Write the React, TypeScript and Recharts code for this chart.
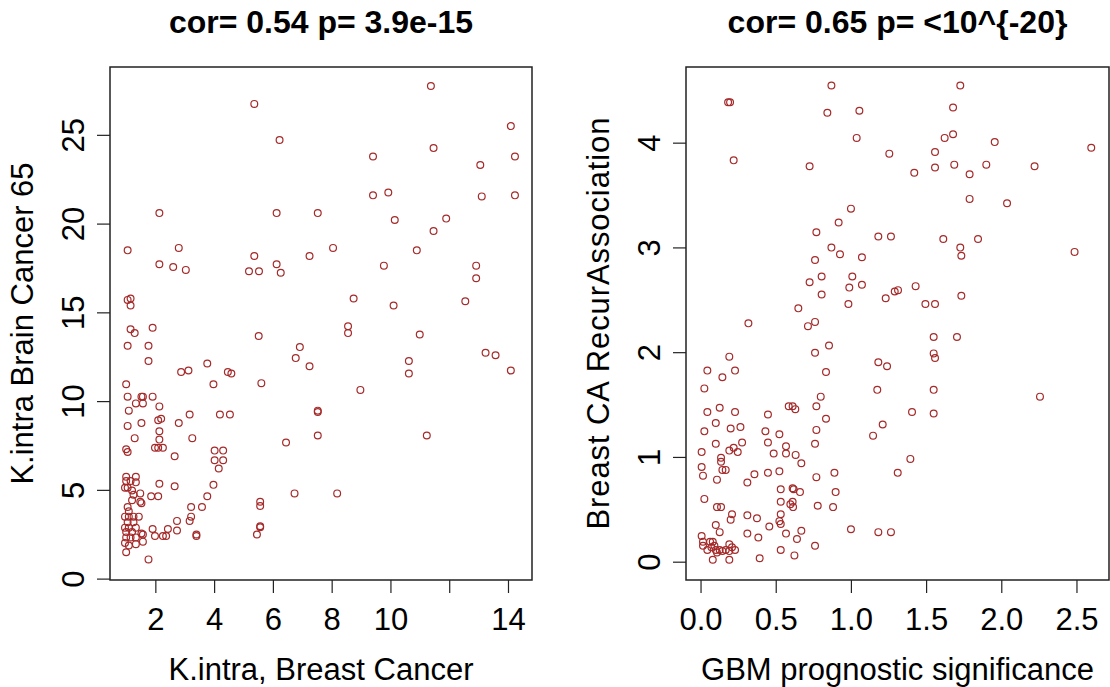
import React from "react";
import { ScatterChart, Scatter, XAxis, YAxis, Label, ReferenceArea } from "recharts";

// left panel: K.intra Breast Cancer vs K.intra Brain Cancer 65
const leftX = [
  11.36, 5.35, 14.08, 6.21, 11.45, 9.39, 14.22, 13.04, 9.39, 9.91, 13.09, 14.22, 2.12, 6.11, 7.51, 10.13, 11.88, 11.45,
  1.04, 2.78, 8.03, 10.88, 5.35, 7.23, 2.12, 2.59, 3.02, 5.17, 5.51, 6.11, 6.25, 9.76, 12.9, 12.9, 1.04, 1.14, 1.14,
  8.73, 12.53, 10.09, 1.14, 1.28, 1.89, 1.04, 1.75, 1.75, 8.54, 8.54, 5.5, 6.9, 6.76, 7.23, 10.98, 10.61, 10.61, 13.22,
  13.56, 14.08, 3.75, 2.86, 3.11, 4.45, 4.57, 5.59, 3.96, 0.99, 8.96, 1.04, 1.51, 1.56, 1.89, 1.32, 1.56, 2.12, 1.08,
  3.15, 4.18, 4.52, 7.51, 7.51, 1.51, 2.08, 2.18, 2.78, 1.04, 2.12, 1.28, 2.12, 3.24, 7.51, 11.22, 6.43, 0.99, 1.04,
  1.97, 2.08, 2.24, 2.64, 4.0, 4.29, 4.0, 4.29, 4.14, 0.99, 1.32, 0.99, 1.14, 1.32, 0.95, 1.04, 1.19, 1.47, 1.24, 2.12,
  2.64, 3.96, 1.84, 2.08, 3.75, 1.19, 1.47, 1.51, 6.72, 8.17, 1.04, 3.2, 3.57, 5.55, 5.55, 1.08, 0.95, 1.08, 1.24,
  1.42, 3.2, 3.15, 2.72, 1.04, 1.24, 0.95, 1.08, 1.32, 0.99, 1.19, 1.51, 1.56, 1.89, 2.41, 2.72, 1.97, 2.24, 2.35,
  3.38, 3.38, 5.55, 5.55, 5.44, 0.99, 1.14, 1.32, 0.95, 1.08, 1.32, 1.56, 0.99, 1.75,
];
const leftY = [
  27.78, 26.77, 25.52, 24.74, 24.28, 23.81, 23.81, 23.33, 21.62, 21.78, 21.56, 21.62, 20.62, 20.62, 20.62, 20.23,
  20.31, 19.61, 18.52, 18.66, 18.66, 18.52, 18.2, 18.2, 17.74, 17.58, 17.42, 17.34, 17.34, 17.74, 17.26, 17.66, 17.66,
  16.95, 15.73, 15.81, 15.41, 15.81, 15.65, 15.41, 14.08, 13.86, 14.16, 13.15, 13.15, 12.29, 14.24, 13.86, 13.7, 13.07,
  12.45, 11.99, 13.78, 12.29, 11.58, 12.75, 12.61, 11.75, 12.15, 11.67, 11.75, 11.67, 11.58, 11.04, 10.98, 10.98,
  10.66, 10.28, 10.28, 10.28, 10.28, 9.9, 9.9, 9.73, 9.49, 9.27, 9.27, 9.27, 9.49, 9.41, 8.79, 8.95, 9.03, 8.79, 8.63,
  8.33, 7.94, 7.86, 7.94, 8.09, 8.09, 7.7, 7.32, 7.16, 7.4, 7.4, 7.4, 6.92, 7.24, 7.24, 6.7, 6.7, 6.23, 5.77, 5.77,
  5.53, 5.53, 5.45, 5.15, 5.15, 4.99, 4.83, 4.75, 5.37, 5.23, 5.31, 4.67, 4.67, 4.67, 4.44, 4.36, 4.28, 4.83, 4.83,
  4.06, 4.06, 4.06, 4.36, 4.12, 3.82, 3.52, 3.52, 3.52, 3.52, 3.52, 3.28, 3.28, 3.2, 3.2, 2.9, 2.9, 2.9, 2.65, 2.65,
  2.57, 2.51, 2.82, 2.82, 2.74, 2.43, 2.43, 2.43, 2.51, 2.43, 2.98, 2.92, 2.51, 2.35, 2.35, 2.35, 2.03, 1.89, 1.97,
  2.11, 1.51, 1.11,
];

// right panel: GBM prognostic significance vs Breast CA RecurAssociation
const rightX = [
  0.867, 1.724, 0.18, 0.193, 1.676, 0.84, 1.053, 1.676, 1.62, 1.035, 1.953, 2.595, 1.252, 1.556, 0.217, 0.722, 1.556,
  1.684, 1.897, 2.218, 1.418, 1.786, 1.786, 2.035, 0.997, 0.915, 0.767, 1.179, 1.263, 1.611, 1.842, 0.867, 0.924,
  1.07, 1.724, 1.731, 2.484, 0.758, 0.802, 1.006, 0.722, 0.986, 1.07, 0.802, 1.427, 1.228, 1.288, 1.31, 1.731, 0.98,
  1.492, 1.556, 0.647, 0.315, 0.711, 0.758, 1.547, 1.702, 0.851, 0.758, 1.547, 1.556, 0.188, 1.179, 1.237, 0.042,
  0.226, 0.142, 0.831, 0.022, 1.172, 1.547, 2.254, 0.796, 0.767, 0.583, 0.609, 0.627, 0.124, 0.042, 0.226, 0.445,
  1.403, 1.547, 0.831, 0.098, 0.022, 0.197, 0.262, 0.428, 0.521, 0.767, 1.208, 1.144, 0.098, 0.273, 0.445, 0.758,
  0.565, 0.004, 0.188, 0.217, 0.244, 0.483, 0.565, 0.629, 0.667, 0.133, 0.133, 0.142, 0.164, 0.004, 0.013, 0.106,
  1.392, 1.308, 0.355, 0.308, 0.445, 0.521, 0.767, 0.887, 0.53, 0.609, 0.616, 0.658, 0.895, 0.022, 0.53, 0.594, 0.609,
  0.612, 0.776, 0.878, 0.106, 0.133, 0.206, 0.197, 0.308, 0.372, 0.53, 0.521, 0.53, 0.454, 0.098, 0.124, 0.308, 0.381,
  0.565, 0.638, 0.667, 0.997, 1.179, 1.263, 0.758, 0.53, 0.621, 0.39, 0.004, 0.013, 0.013, 0.042, 0.06, 0.078, 0.089,
  0.098, 0.106, 0.069, 0.142, 0.164, 0.188, 0.188, 0.226, 0.078, 0.188, 0.206, 0.124,
];
const rightY = [
  4.55, 4.55, 4.39, 4.39, 4.34, 4.29, 4.31, 4.085, 4.05, 4.05, 4.01, 3.956, 3.9, 3.915, 3.836, 3.78, 3.768, 3.795,
  3.795, 3.78, 3.717, 3.703, 3.468, 3.427, 3.375, 3.242, 3.15, 3.109, 3.109, 3.085, 3.085, 3.003, 2.939, 2.911, 3.003,
  2.925, 2.962, 2.884, 2.727, 2.727, 2.672, 2.621, 2.648, 2.556, 2.635, 2.519, 2.584, 2.597, 2.543, 2.464, 2.464,
  2.464, 2.423, 2.28, 2.253, 2.294, 2.15, 2.15, 2.068, 2.0, 1.993, 1.949, 1.962, 1.908, 1.87, 1.829, 1.829, 1.765,
  1.816, 1.659, 1.645, 1.645, 1.58, 1.58, 1.488, 1.488, 1.488, 1.461, 1.474, 1.433, 1.433, 1.41, 1.433, 1.42, 1.369,
  1.328, 1.249, 1.276, 1.29, 1.249, 1.222, 1.263, 1.314, 1.208, 1.13, 1.143, 1.143, 1.13, 1.106, 1.051, 1.065, 1.092,
  1.051, 1.038, 1.038, 1.024, 0.945, 0.997, 0.959, 0.881, 0.881, 0.908, 0.826, 0.788, 0.986, 0.853, 0.84, 0.761,
  0.853, 0.867, 0.812, 0.853, 0.696, 0.706, 0.696, 0.669, 0.669, 0.604, 0.577, 0.553, 0.577, 0.526, 0.539, 0.526,
  0.526, 0.526, 0.457, 0.406, 0.447, 0.42, 0.457, 0.392, 0.365, 0.341, 0.355, 0.287, 0.273, 0.235, 0.273, 0.222, 0.3,
  0.314, 0.287, 0.287, 0.157, 0.116, 0.065, 0.038, 0.249, 0.195, 0.157, 0.116, 0.195, 0.195, 0.157, 0.116, 0.092,
  0.143, 0.106, 0.116, 0.171, 0.106, 0.116, 0.024, 0.024, 0.143, 0.116,
];

const leftXTicks = [2, 4, 6, 8, 10, 12, 14];
const leftYTicks = [0, 5, 10, 15, 20, 25];
const rightXTicks = [0, 0.5, 1, 1.5, 2, 2.5];
const rightYTicks = [0, 1, 2, 3, 4];

const leftTitle = "cor= 0.54 p= 3.9e-15";
const rightTitle = "cor= 0.65 p= <10^{-20}";

const FONT = "'Liberation Sans', Arial, Helvetica, sans-serif";
const PT_COLOR = "#A52A2A";
const H = 687;
const TOP = 67;
const BOTTOM = 580;
const BOX_LEFT = 110;

const zip = (xs: number[], ys: number[]) => xs.map((x, i) => ({ x, y: ys[i] }));

const ring = (p: any) => {
  const cx = p.cx ?? p.x + (p.width || 0) / 2;
  const cy = p.cy ?? p.y + (p.height || 0) / 2;
  return <circle cx={cx} cy={cy} r={3.4} fill="none" stroke={PT_COLOR} strokeWidth={1.2} />;
};

type PanelProps = {
  left: number;
  width: number;
  plotWidth: number;
  data: { x: number; y: number }[];
  xDomain: [number, number];
  yDomain: [number, number];
  xTicks: number[];
  yTicks: number[];
  xFmt: (v: number) => string;
  xLabel: string;
  yLabel: string;
  yLabelLength?: number;
  title: string;
};

function Panel(p: PanelProps) {
  const right = p.width - BOX_LEFT - p.plotWidth;
  const midX = BOX_LEFT + p.plotWidth / 2;
  const midY = (TOP + BOTTOM) / 2;

  const xTick = (t: any) => (
    <text x={t.x} y={BOTTOM + 50} textAnchor="middle" fontSize={31} fontFamily={FONT} fill="#000">
      {p.xFmt(t.payload.value)}
    </text>
  );
  const yTick = (t: any) => (
    <text
      x={84}
      y={t.y}
      transform={`rotate(-90, 84, ${t.y})`}
      textAnchor="middle"
      fontSize={31}
      fontFamily={FONT}
      fill="#000"
    >
      {t.payload.value}
    </text>
  );

  return (
    <div style={{ position: "absolute", left: p.left, top: 0, width: p.width, height: H }}>
      <div
        style={{
          position: "absolute",
          left: 0,
          top: 6,
          width: midX * 2,
          textAlign: "center",
          fontFamily: FONT,
          fontWeight: "bold",
          fontSize: 32,
          lineHeight: "32px",
          color: "#000",
          whiteSpace: "nowrap",
        }}
      >
        {p.title}
      </div>
      <ScatterChart width={p.width} height={H} margin={{ top: TOP, left: BOX_LEFT - 60, right, bottom: H - BOTTOM - 30 }}>
        <XAxis
          type="number"
          dataKey="x"
          domain={p.xDomain}
          allowDataOverflow
          ticks={p.xTicks}
          interval={0}
          axisLine={false}
          tickLine={{ stroke: "#222", strokeWidth: 1.2 }}
          tickSize={13}
          height={30}
          tick={xTick}
        >
          <Label
            content={() => (
              <text x={midX} y={BOTTOM + 100} textAnchor="middle" fontSize={31} fontFamily={FONT} fill="#000">
                {p.xLabel}
              </text>
            )}
          />
        </XAxis>
        <YAxis
          type="number"
          dataKey="y"
          domain={p.yDomain}
          allowDataOverflow
          ticks={p.yTicks}
          interval={0}
          axisLine={false}
          tickLine={{ stroke: "#222", strokeWidth: 1.2 }}
          tickSize={13}
          width={60}
          tick={yTick}
        >
          <Label
            content={() => (
              <text
                x={33}
                y={midY}
                transform={`rotate(-90, 33, ${midY})`}
                textAnchor="middle"
                fontSize={31}
                fontFamily={FONT}
                fill="#000"
                textLength={p.yLabelLength}
                lengthAdjust={p.yLabelLength ? "spacing" : undefined}
              >
                {p.yLabel}
              </text>
            )}
          />
        </YAxis>
        <ReferenceArea
          x1={p.xDomain[0]}
          x2={p.xDomain[1]}
          y1={p.yDomain[0]}
          y2={p.yDomain[1]}
          fill="none"
          fillOpacity={0}
          stroke="#222"
          strokeWidth={1.5}
          ifOverflow="visible"
        />
        <Scatter data={p.data} shape={ring} isAnimationActive={false} />
      </ScatterChart>
    </div>
  );
}

export default function App() {
  return (
    <div style={{ position: "absolute", left: 0, top: 0, width: 1110, height: H, background: "#fff" }}>
      <Panel
        left={0}
        width={555}
        plotWidth={422}
        data={zip(leftX, leftY)}
        xDomain={[0.44, 14.8]}
        yDomain={[-0.05, 28.85]}
        xTicks={leftXTicks}
        yTicks={leftYTicks}
        xFmt={(v) => (v === 12 ? "" : String(v))}
        xLabel="K.intra, Breast Cancer"
        yLabel="K.intra Brain Cancer 65"
        title={leftTitle}
      />
      <Panel
        left={576}
        width={534}
        plotWidth={423}
        data={zip(rightX, rightY)}
        xDomain={[-0.1, 2.713]}
        yDomain={[-0.17, 4.727]}
        xTicks={rightXTicks}
        yTicks={rightYTicks}
        xFmt={(v) => v.toFixed(1)}
        xLabel="GBM prognostic significance"
        yLabel="Breast CA RecurAssociation"
        yLabelLength={412}
        title={rightTitle}
      />
    </div>
  );
}
